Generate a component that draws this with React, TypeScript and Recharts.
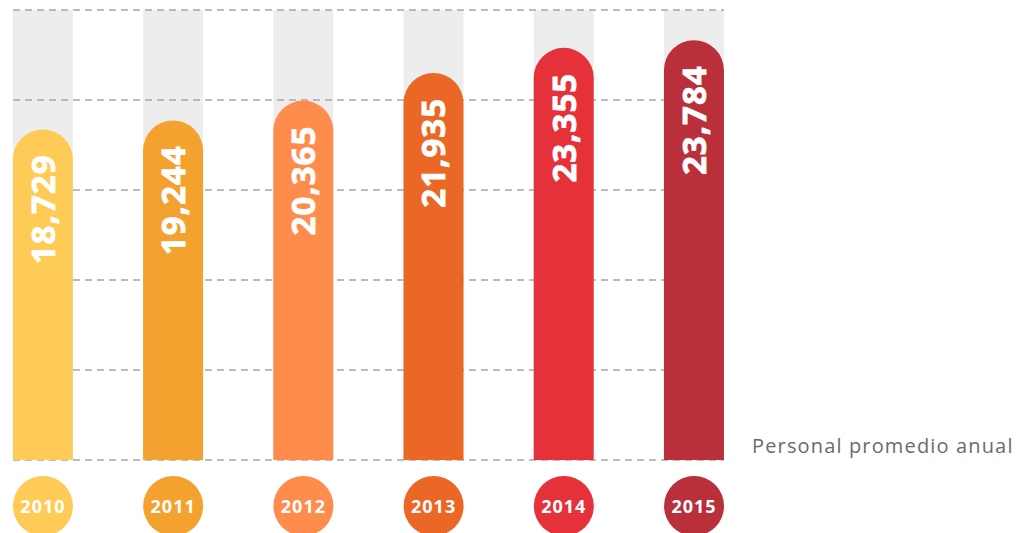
import { BarChart, Bar, XAxis, YAxis, CartesianGrid, Cell, LabelList } from 'recharts';

const years = [2010, 2011, 2012, 2013, 2014, 2015];
const personal = [18729, 19244, 20365, 21935, 23355, 23784];
const barColors = ['#FECB57', '#F4A22F', '#FE8C4C', '#EB6726', '#E5323A', '#B92F3A'];
const gridTicks = [0, 5100, 10200, 15300, 20400, 25500];
const xDomain = [2009.77, 2015.23];
const seriesLabel = 'Personal promedio anual';

const data = years.map((year, i) => ({ year, value: personal[i] }));

const W = 1028;
const H = 533;
const margin = { top: 10, left: 13, right: 304, bottom: 13 };
const FONT = '"Open Sans", "Noto Sans", sans-serif';

function ValueLabel(props: any) {
  const { x, y, width, value } = props;
  const px = x + width / 2 + 12;
  const py = y + 25;
  return (
    <text
      x={px}
      y={py}
      transform={`rotate(-90 ${px} ${py})`}
      textAnchor="end"
      fill="#fff"
      fontSize={33}
      fontWeight={700}
      fontFamily={FONT}
      letterSpacing={1}
      stroke="#fff"
      strokeWidth={0.8}
    >
      {Number(value).toLocaleString('en-US')}
    </text>
  );
}

function YearTick(props: any) {
  const { x, y, payload } = props;
  const i = years.indexOf(payload.value);
  const cy = y + 46;
  return (
    <g>
      <circle cx={x} cy={cy} r={30} fill={barColors[i]} />
      <text
        x={x}
        y={cy + 7}
        textAnchor="middle"
        fill="#fff"
        fontSize={18}
        fontWeight={700}
        fontFamily={FONT}
        letterSpacing={1}
      >
        {payload.value}
      </text>
    </g>
  );
}

export default function App() {
  const xAxisProps = {
    type: 'number' as const,
    dataKey: 'year',
    domain: xDomain,
    ticks: years,
    height: 60,
    axisLine: false,
    tickLine: false,
    tickSize: 0,
    tickMargin: 0,
    allowDataOverflow: true,
  };

  return (
    <div style={{ position: 'absolute', left: 0, top: 0, width: W, height: H, overflow: 'hidden', background: '#fff' }}>
      {/* grey tracks behind the grid */}
      <div style={{ position: 'absolute', left: 0, top: 0 }}>
        <BarChart width={W} height={H} data={data} margin={margin}>
          <XAxis {...xAxisProps} tick={false} />
          <YAxis hide domain={[0, 25500]} ticks={gridTicks} />
          <Bar
            dataKey="value"
            barSize={60}
            fill="transparent"
            background={{ fill: '#EDEDED' }}
            isAnimationActive={false}
          />
        </BarChart>
      </div>
      <div style={{ position: 'absolute', left: 0, top: 0 }}>
        <BarChart width={W} height={H} data={data} margin={margin}>
          <CartesianGrid vertical={false} stroke="#A6A6A6" strokeDasharray="7 5" strokeWidth={1.3} />
          <XAxis {...xAxisProps} tick={<YearTick />} />
          <YAxis hide domain={[0, 25500]} ticks={gridTicks} />
          <Bar dataKey="value" barSize={60} radius={[30, 30, 0, 0]} isAnimationActive={false}>
            {data.map((d, i) => (
              <Cell key={d.year} fill={barColors[i]} />
            ))}
            <LabelList dataKey="value" content={<ValueLabel />} />
          </Bar>
        </BarChart>
      </div>
      <div
        style={{
          position: 'absolute',
          left: 752,
          top: 436,
          fontFamily: FONT,
          fontSize: 20,
          lineHeight: '20px',
          color: '#6B6B6B',
          whiteSpace: 'nowrap',
          letterSpacing: 1.15,
        }}
      >
        {seriesLabel}
      </div>
    </div>
  );
}
